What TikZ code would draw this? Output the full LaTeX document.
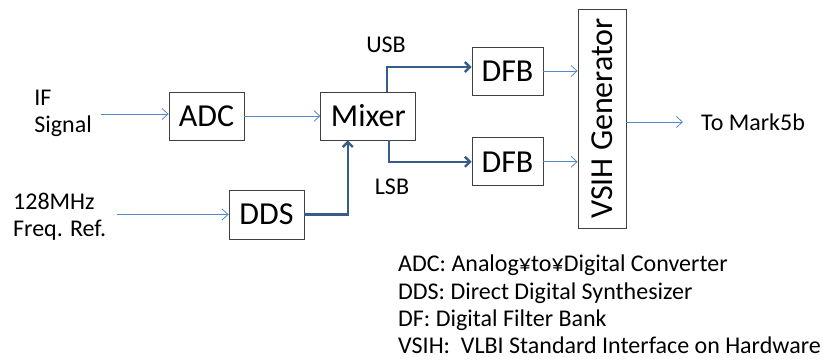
\documentclass[tikz,border=0pt]{standalone}
\usepackage{fontspec}
\setmainfont{Carlito}
\usetikzlibrary{arrows.meta, positioning}
\definecolor{sigblue}{RGB}{86,135,200}
\definecolor{busblue}{RGB}{56,93,138}

\begin{document}
\begin{tikzpicture}[x=1pt, y=1pt,
    box/.style={draw=black!75, line width=0.8pt, inner sep=0pt,
                font=\fontsize{32}{38}\selectfont},
    lbl/.style={inner sep=0pt, font=\fontsize{24}{27}\selectfont},
    sig/.style={-{Straight Barb[length=6pt, width=11pt]}, draw=sigblue, line width=0.8pt},
    bus/.style={-{Straight Barb[length=5pt, width=10pt]}, draw=busblue, line width=2.4pt},
  ]
    \useasboundingbox (0,0) rectangle (823,363);

    % blocks
    \node[box, minimum width=75pt, minimum height=48pt] (adc) at (206.5,247) {ADC};
    \node[box, minimum width=95pt, minimum height=48pt] (mixer) [right=76pt of adc] {Mixer};
    \node[box, minimum width=75pt, minimum height=49pt] (dds) at (266.5,148.5) {DDS};
    \node[box, minimum width=71pt, minimum height=48pt] (dfbu) at (507.5,292) {DFB};
    \node[box, minimum width=71pt, minimum height=48pt] (dfbl) [below=42pt of dfbu] {DFB};
    \node[box, rotate=90, minimum width=219pt, minimum height=48pt] (vsih) at (602,244.5)
      {VSIH Generator};

    % inputs and output
    \node[lbl, align=left, anchor=east] (ifsig) at (92,250) {IF\\Signal};
    \coordinate (ifin) at (101,249);
    \node[lbl, align=left, anchor=west] (freq) at (13,146) {128MHz\\Freq. Ref.};
    \coordinate (freqin) at (117,148.5);
    \node[lbl, anchor=west] (mark) at (701,241) {To Mark5b};

    \draw[sig] (ifin) -- (ifin -| adc.west);
    \draw[sig] (adc) -- (mixer);
    \draw[sig] (freqin) -- (dds);
    \draw[bus] (dds.east) -| ([xshift=-20.5pt]mixer.south);
    \draw[bus] ([xshift=18.5pt]mixer.north) |- ([yshift=4pt]dfbu.west);
    \draw[bus] ([xshift=20.5pt]mixer.south) |- (dfbl.west);
    \node[lbl] (usb) at (386,318) {USB};
    \node[lbl] (lsb) at (392,176) {LSB};

    \draw[sig] (dfbu.east) -- (dfbu.east -| vsih.north);
    \draw[sig] (dfbl.east) -- (dfbl.east -| vsih.north);
    \draw[sig] (vsih.south |- mark) -- ([xshift=-18pt]mark.west);

    % legend
    \node[lbl, align=left, anchor=north west, font=\fontsize{24}{27.3}\selectfont] (legend)
      at (398,108) {ADC: Analog¥to¥Digital Converter\\
                    DDS: Direct Digital Synthesizer\\
                    DF: Digital Filter Bank\\
                    VSIH:\ \ VLBI Standard Interface on Hardware};
  \end{tikzpicture}
\end{document}
